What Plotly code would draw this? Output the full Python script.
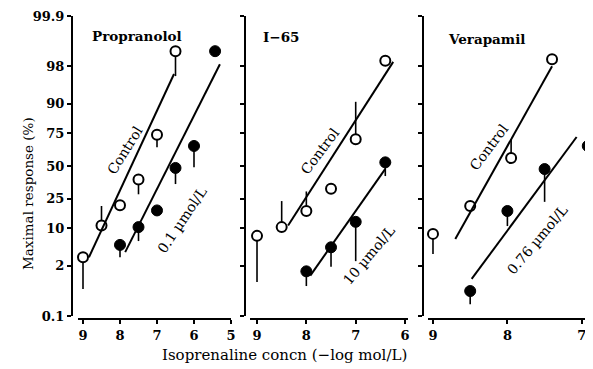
import plotly.graph_objects as go
from statistics import NormalDist

W, H = 593, 369
_nd = NormalDist()


def probit(p):
    return _nd.inv_cdf(p / 100.0)


# ---------------- data ----------------
Y_TICKS = [0.1, 2, 10, 25, 50, 75, 90, 98, 99.9]
Y_TICK_TEXT = ["0.1", "2", "10", "25", "50", "75", "90", "98", "99.9"]

panel_titles = ["Propranolol", "I\u221265", "Verapamil"]
x_ticks = [[9, 8, 7, 6, 5], [9, 8, 7, 6], [9, 8, 7]]
drug_labels = ["0.1 \u00b5mol/L", "10 \u00b5mol/L", "0.76 \u00b5mol/L"]

# Propranolol
prop_ctrl_x = [9, 8.5, 8, 7.5, 7, 6.5]
prop_ctrl_y = [3.0, 11, 21, 39, 74, 99.1]
prop_ctrl_err = [0.56, 20.5, None, 28, 65, 96.8]
prop_drug_x = [8, 7.5, 7, 6.5, 6, 5.43]
prop_drug_y = [5.2, 10.4, 18, 48.4, 66, 99.1]
prop_drug_err = [3.0, 6.1, None, 35.5, 49, None]
prop_ctrl_fit_x = [8.84, 6.54]
prop_ctrl_fit_y = [3.0, 97.1]
prop_drug_fit_x = [7.86, 5.30]
prop_drug_fit_y = [3.8, 98.2]

# I-65
i65_ctrl_x = [9, 8.5, 8, 7.5, 7, 6.4]
i65_ctrl_y = [7.5, 10.4, 17.7, 32, 71, 98.5]
i65_ctrl_err = [0.84, 23.5, 30, None, 90.7, None]
i65_drug_x = [8, 7.5, 7, 6.4]
i65_drug_y = [1.5, 4.7, 12.5, 53]
i65_drug_err = [0.67, 1.9, 2.5, 41.8]
i65_ctrl_fit_x = [8.37, 6.24]
i65_ctrl_fit_y = [11, 98.4]
i65_drug_fit_x = [7.92, 6.40]
i65_drug_fit_y = [1.2, 47.6]

# Verapamil
vera_ctrl_x = [9, 8.5, 7.95, 7.4]
vera_ctrl_y = [8.1, 20.5, 56.5, 98.6]
vera_ctrl_err = [3.5, None, 71, None]
vera_drug_x = [8.5, 8, 7.5, 6.92]
vera_drug_y = [0.5, 17.7, 47.5, 66]
vera_drug_err = [0.22, 10.8, 23, None]
vera_ctrl_fit_x = [8.70, 7.40]
vera_ctrl_fit_y = [6.6, 98.0]
vera_drug_fit_x = [8.48, 7.07]
vera_drug_fit_y = [1.0, 72.5]

panels = [
    dict(ctrl=(prop_ctrl_x, prop_ctrl_y, prop_ctrl_err),
         drug=(prop_drug_x, prop_drug_y, prop_drug_err),
         cfit=(prop_ctrl_fit_x, prop_ctrl_fit_y),
         dfit=(prop_drug_fit_x, prop_drug_fit_y)),
    dict(ctrl=(i65_ctrl_x, i65_ctrl_y, i65_ctrl_err),
         drug=(i65_drug_x, i65_drug_y, i65_drug_err),
         cfit=(i65_ctrl_fit_x, i65_ctrl_fit_y),
         dfit=(i65_drug_fit_x, i65_drug_fit_y)),
    dict(ctrl=(vera_ctrl_x, vera_ctrl_y, vera_ctrl_err),
         drug=(vera_drug_x, vera_drug_y, vera_drug_err),
         cfit=(vera_ctrl_fit_x, vera_ctrl_fit_y),
         dfit=(vera_drug_fit_x, vera_drug_fit_y)),
]

# ---------------- layout geometry (target pixels in the page) ----------------
FONT = "DejaVu Serif"
OFF = 8  # page body margin
x_dom_px = [(78, 231), (250, 408), (428, 590)]
x_ranges = [[9.135, 5.0], [9.142, 5.94], [9.067, 6.89]]
y_axis_px = [72, 245, 423]
Y_TOP_PX, Y_BOT_PX = 16, 316
X_AXIS_PX = 319


def px(x):
    return (x - OFF) / W


def py(y):
    return 1 - (y - OFF) / H


fig = go.Figure()


def err_arrays(vals, tips):
    up, dn = [], []
    for v, t in zip(vals, tips):
        if t is None:
            up.append(0)
            dn.append(0)
        else:
            d = probit(t) - probit(v)
            up.append(d if d > 0 else 0)
            dn.append(-d if d < 0 else 0)
    return up, dn


for i, p in enumerate(panels):
    xa = "x" if i == 0 else f"x{i+1}"
    ya = "y" if i == 0 else f"y{i+1}"
    for key, filled in (("ctrl", False), ("drug", True)):
        xs, ys, tips = p[key]
        up, dn = err_arrays(ys, tips)
        fig.add_trace(go.Scatter(
            x=xs, y=[probit(v) for v in ys], mode="markers",
            xaxis=xa, yaxis=ya, cliponaxis=False, showlegend=False,
            marker=dict(size=10 if not filled else 11,
                        color="black" if filled else "white",
                        line=dict(color="black", width=2 if not filled else 1)),
            error_y=dict(type="data", symmetric=False, array=up,
                         arrayminus=dn, width=0, thickness=1.6,
                         color="black"),
        ))
    for key in ("cfit", "dfit"):
        fx, fy = p[key]
        fig.add_trace(go.Scatter(
            x=fx, y=[probit(v) for v in fy], mode="lines",
            xaxis=xa, yaxis=ya, cliponaxis=False, showlegend=False,
            line=dict(color="black", width=2),
        ))

y_tickvals = [probit(v) for v in Y_TICKS]
tickfont = dict(family=FONT, size=13, color="black", weight="bold")
layout = dict(
    template="none",
    width=W, height=H, margin=dict(l=0, r=0, t=0, b=0, pad=0, autoexpand=False),
    paper_bgcolor="white", plot_bgcolor="rgba(0,0,0,0)",
    font=dict(family=FONT, color="black", size=14),
    showlegend=False,
)
for i in range(3):
    xk = "xaxis" if i == 0 else f"xaxis{i+1}"
    yk = "yaxis" if i == 0 else f"yaxis{i+1}"
    layout[xk] = dict(
        domain=[px(x_dom_px[i][0]), px(x_dom_px[i][1])],
        range=x_ranges[i], anchor="free", position=py(X_AXIS_PX),
        tickvals=x_ticks[i], ticktext=[str(t) for t in x_ticks[i]],
        ticks="outside", ticklen=4, tickwidth=1.5, tickcolor="black",
        showline=True, linecolor="black", linewidth=2,
        showgrid=False, zeroline=False, automargin=False,
        tickfont=tickfont,
    )
    layout[yk] = dict(
        domain=[py(Y_BOT_PX), py(Y_TOP_PX)],
        range=[probit(0.1), probit(99.9)], anchor="free",
        position=px(y_axis_px[i]),
        tickvals=y_tickvals,
        ticktext=Y_TICK_TEXT if i == 0 else [""] * len(Y_TICKS),
        showticklabels=(i == 0),
        ticks="outside", ticklen=4, tickwidth=1.5, tickcolor="black",
        showline=True, linecolor="black", linewidth=2,
        showgrid=False, zeroline=False, automargin=False,
        tickfont=tickfont,
    )
fig.update_layout(**layout)

ann = []
title_pos = [(137, 36), (281, 37), (486, 39)]
for t, (x, y) in zip(panel_titles, title_pos):
    ann.append(dict(text=t, x=px(x), y=py(y), xref="paper", yref="paper",
                    xanchor="center", yanchor="middle", showarrow=False,
                    font=dict(size=13.5, family=FONT, weight="bold")))
ctrl_lab = [(125, 150, -58), (320, 151, -53), (489, 147, -53)]
drug_lab = [(182, 220, -56), (369, 255, -50), (537, 240, -50)]
for (x, y, a) in ctrl_lab:
    ann.append(dict(text="Control", x=px(x), y=py(y), xref="paper",
                    yref="paper", showarrow=False, textangle=a,
                    xanchor="center", yanchor="middle",
                    font=dict(size=14, family=FONT)))
for t, (x, y, a) in zip(drug_labels, drug_lab):
    ann.append(dict(text=t, x=px(x), y=py(y), xref="paper", yref="paper",
                    showarrow=False, textangle=a,
                    xanchor="center", yanchor="middle",
                    font=dict(size=14, family=FONT)))
ann.append(dict(text="Maximal response (%)", x=px(28), y=py(194),
                xref="paper", yref="paper", showarrow=False, textangle=-90,
                xanchor="center", yanchor="middle",
                font=dict(size=13.5, family=FONT)))
ann.append(dict(text="Isoprenaline concn (\u2212log mol/L)", x=px(284),
                y=py(355), xref="paper", yref="paper", showarrow=False,
                xanchor="center", yanchor="middle",
                font=dict(size=15, family=FONT)))
fig.update_layout(annotations=ann)

fig.write_html("out.html")
